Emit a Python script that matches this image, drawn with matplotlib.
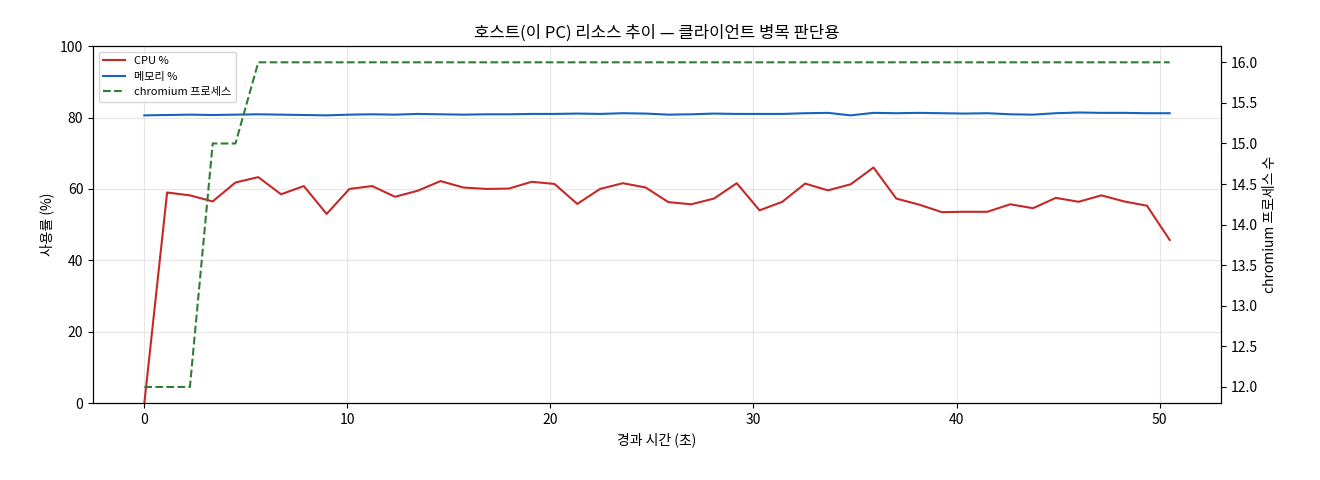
import matplotlib
matplotlib.use("Agg")
import matplotlib.pyplot as plt
import numpy as np

plt.rcParams['font.family'] = ['Noto Sans CJK KR', 'DejaVu Sans']
plt.rcParams['axes.unicode_minus'] = False

cpu = [0, 59, 58.2, 56.5, 61.8, 63.3, 58.5, 60.8, 53, 60, 60.8, 57.8, 59.5, 62.2, 60.4, 60,
       60.1, 62, 61.4, 55.8, 60, 61.6, 60.4, 56.3, 55.7, 57.3, 61.6, 54, 56.4, 61.5, 59.6,
       61.3, 66, 57.3, 55.6, 53.5, 53.6, 53.6, 55.7, 54.6, 57.5, 56.4, 58.2, 56.5, 55.3, 45.7]
mem = [80.6, 80.7, 80.8, 80.7, 80.8, 80.9, 80.8, 80.7, 80.6, 80.8, 80.9, 80.8, 81.0, 80.9,
       80.8, 80.9, 80.9, 81.0, 81.0, 81.1, 81.0, 81.2, 81.1, 80.8, 80.9, 81.1, 81.0, 81.0,
       81.0, 81.2, 81.3, 80.6, 81.3, 81.2, 81.3, 81.2, 81.1, 81.2, 80.9, 80.8, 81.2, 81.4,
       81.3, 81.3, 81.2, 81.2]
procs = [12, 12, 12, 15, 15] + [16] * 41
t = np.linspace(0, 50.5, len(cpu))

fig, ax = plt.subplots(figsize=(13.2, 4.8), dpi=100)
l1, = ax.plot(t, cpu, color='#c62828', lw=1.5, label='CPU %')
l2, = ax.plot(t, mem, color='#1565c0', lw=1.5, label='메모리 %')
ax.set_ylim(0, 100)
ax.set_ylabel('사용률 (%)')
ax.set_xlabel('경과 시간 (초)')
ax.grid(True, alpha=0.3)
ax2 = ax.twinx()
l3, = ax2.plot(t, procs, color='#2e7d32', lw=1.5, ls='--', label='chromium 프로세스')
ax2.set_ylabel('chromium 프로세스 수')
ax.set_title('호스트(이 PC) 리소스 추이 — 클라이언트 병목 판단용')
ax.legend(handles=[l1, l2, l3], loc='upper left', fontsize=8)
fig.subplots_adjust(left=0.0705, right=0.925, top=0.904, bottom=0.16)
fig.savefig('out.png')
